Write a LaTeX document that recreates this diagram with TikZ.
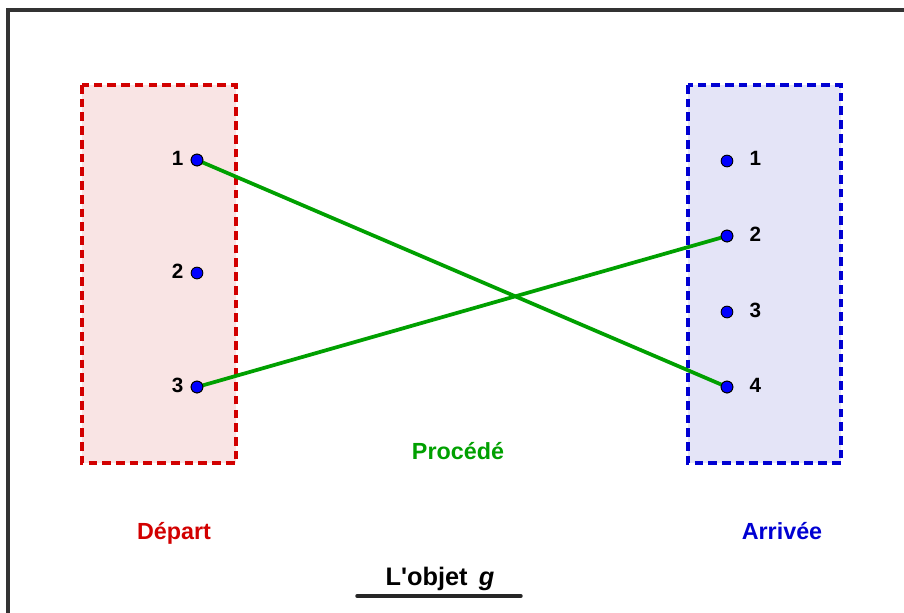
\documentclass[tikz,border=0pt]{standalone}
\usepackage{fontspec}
\setmainfont{Liberation Sans}
\begin{document}
\begin{tikzpicture}[x=0.75pt,y=-0.75pt,
  frame/.style={draw=black!80,line width=2.5pt},
  setbox/.style={dashed,line width=2.7pt,dash pattern=on 6.5pt off 3.8pt},
  pt/.style={circle,fill=blue,draw=black,line width=0.7pt,inner sep=0pt,minimum size=8.8pt},
  num/.style={font=\fontsize{15.5}{18}\selectfont\bfseries,text=black},
  link/.style={line width=2.8pt},
  lab/.style={font=\fontsize{17.5}{20}\selectfont\bfseries}]
\useasboundingbox (0,0) rectangle (904,612);
\begin{scope}
\clip (0,0) rectangle (904,612);
\draw[frame] (8,10) rectangle (920,630);
\end{scope}
\definecolor{redb}{RGB}{210,0,0}
\definecolor{redf}{RGB}{249,228,228}
\definecolor{blueb}{RGB}{0,0,210}
\definecolor{bluef}{RGB}{228,228,247}
\definecolor{grn}{RGB}{0,160,0}
\path[setbox,draw=redb,fill=redf] (82,85) rectangle (236,463);
\path[setbox,draw=blueb,fill=bluef] (688,85) rectangle (841,463);
\node[pt] (a1) at (197,160) {};
\node[pt] (a2) at (197,273) {};
\node[pt] (a3) at (197,387) {};
\node[pt] (b1) at (727,161) {};
\node[pt] (b2) at (727,236) {};
\node[pt] (b3) at (727,312) {};
\node[pt] (b4) at (727,387) {};
\node[num,anchor=east] (la1) at (188,158) {1};
\node[num,anchor=east] (la2) at (188,271) {2};
\node[num,anchor=east] (la3) at (188,385) {3};
\node[num,anchor=west] (lb1) at (745,158) {1};
\node[num,anchor=west] (lb2) at (745,234) {2};
\node[num,anchor=west] (lb3) at (745,310) {3};
\node[num,anchor=west] (lb4) at (745,385) {4};
\draw[link,draw=grn] (a1.center) -- (b4.center);
\draw[link,draw=grn] (a3.center) -- (b2.center);
\node[pt] at (a1) {};
\node[pt] at (a3) {};
\node[pt] at (b2) {};
\node[pt] at (b4) {};
\node[lab,text=grn,anchor=base] (proc) at (458,459) {Procédé};
\node[lab,text=redb,anchor=base] (dep) at (174,539) {Départ};
\node[lab,text=blueb,anchor=base] (arr) at (782,539) {Arrivée};
\node[font=\fontsize{19}{22}\selectfont\bfseries\addfontfeatures{Ligatures=TeXOff},anchor=base] (obj) at (440,585) {L'objet \,\textit{g}};
\coordinate (u1) at (357,596);
\coordinate (u2) at (521,596);
\draw[line width=2.6pt,line cap=round,black!85] (u1) -- (u2);
\end{tikzpicture}
\end{document}
